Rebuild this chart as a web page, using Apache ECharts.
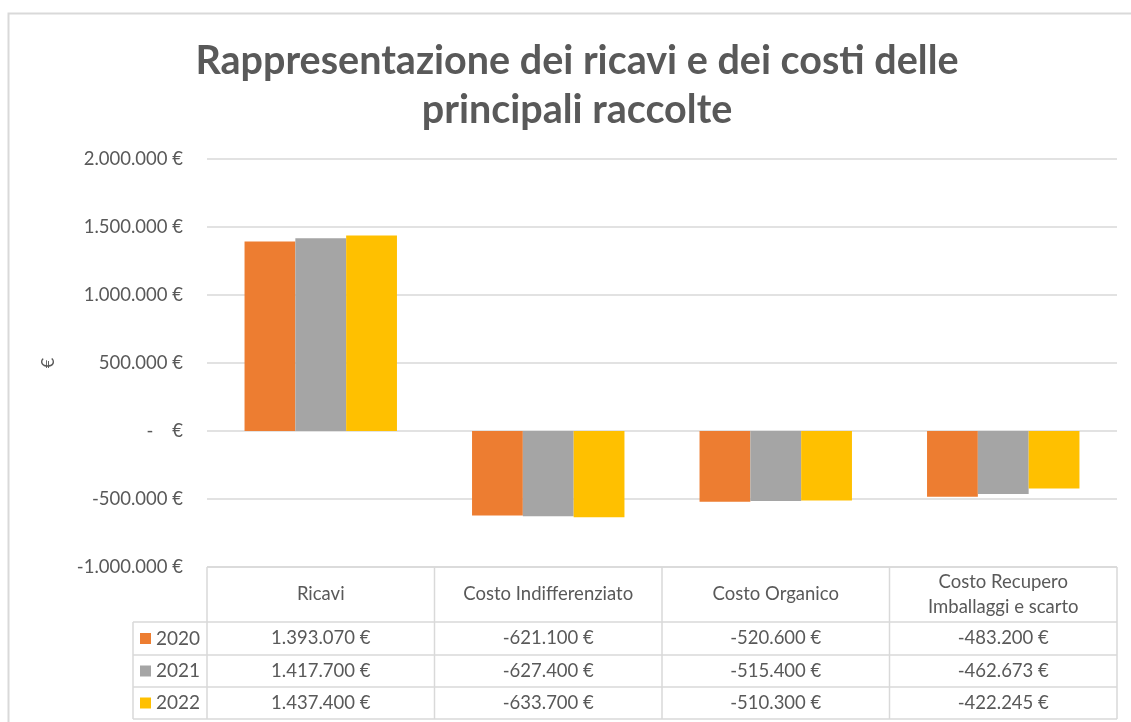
<!DOCTYPE html>
<html>
<head>
<meta charset="utf-8">
<script src="https://cdn.jsdelivr.net/npm/echarts@6/dist/echarts.min.js"></script>
<style>
  html, body { margin: 0; padding: 0; background: #fff; }
  #chart { width: 1131px; height: 722px; }
</style>
</head>
<body>
<div id="chart"></div>
<script>
// dati
var categorie = ['Ricavi', 'Costo Indifferenziato', 'Costo Organico', 'Costo Recupero\nImballaggi e scarto'];
var anni = ['2020', '2021', '2022'];
var valori2020 = [1393070, -621100, -520600, -483200];
var valori2021 = [1417700, -627400, -515400, -462673];
var valori2022 = [1437400, -633700, -510300, -422245];
var colori = ['#ED7D31', '#A5A5A5', '#FFC000'];
var titolo = 'Rappresentazione dei ricavi e dei costi delle\nprincipali raccolte';

var serie = [valori2020, valori2021, valori2022];
var FONT = 'Lato, "Open Sans", sans-serif';
var TESTO = '#595959';
var LINEA = '#D9D9D9';

// posizione area grafico
var gLeft = 207, gRight = 1117, gTop = 159, gBottom = 567;
var righe = [622, 655, 687, 719];
var legLeft = 133;

function euro(v) {
  if (v === 0) return '-    €';
  var s = Math.abs(v).toString().replace(/\B(?=(\d{3})+(?!\d))/g, '.');
  return (v < 0 ? '-' : '') + s + ' €';
}

var myChart = echarts.init(document.getElementById('chart'));

// tabella dati sotto il grafico
var colW = (gRight - gLeft) / categorie.length;
var g = [];
function linea(x1, y1, x2, y2) {
  g.push({ type: 'line', silent: true, shape: { x1: x1, y1: y1, x2: x2, y2: y2 },
    style: { stroke: LINEA, lineWidth: 1.5 } });
}
function testo(t, x, y, size, align) {
  g.push({ type: 'text', silent: true, style: { text: t, x: x, y: y,
    font: size + 'px ' + FONT, fill: TESTO, lineHeight: 25,
    textAlign: align || 'center', textVerticalAlign: 'middle',
    align: align || 'center', verticalAlign: 'middle' } });
}

// bordo esterno
g.push({ type: 'rect', silent: true, shape: { x: 8.5, y: 13.5, width: 1140, height: 740 },
  style: { fill: 'none', stroke: LINEA, lineWidth: 2 } });

// titolo
g.push({ type: 'text', silent: true, style: { text: titolo, x: 577, y: 86,
  font: 'bold 39.5px ' + FONT, fill: TESTO, lineHeight: 49,
  textAlign: 'center', textVerticalAlign: 'middle', align: 'center', verticalAlign: 'middle' } });

linea(gLeft, gBottom, gRight, gBottom);
for (var i = 0; i <= categorie.length; i++) {
  var x = gLeft + i * colW;
  linea(x, gBottom, x, righe[3]);
}
linea(legLeft, righe[0], legLeft, righe[3]);
for (var r = 0; r < righe.length; r++) {
  linea(legLeft, righe[r], gRight, righe[r]);
}
for (var c = 0; c < categorie.length; c++) {
  var cx = gLeft + (c + 0.5) * colW;
  testo(categorie[c], cx, (gBottom + righe[0]) / 2, 18.5);
  for (var s = 0; s < serie.length; s++) {
    testo(euro(serie[s][c]), cx, (righe[s] + righe[s + 1]) / 2, 18.5);
  }
}
for (var s2 = 0; s2 < anni.length; s2++) {
  var cy = (righe[s2] + righe[s2 + 1]) / 2;
  g.push({ type: 'rect', silent: true, shape: { x: 140, y: cy - 5.5, width: 11, height: 11 },
    style: { fill: colori[s2] } });
  testo(anni[s2], 156, cy, 19, 'left');
}

var option = {
  animation: false,
  backgroundColor: '#fff',
  color: colori,
  grid: { left: gLeft, right: 1131 - gRight, top: gTop, bottom: 722 - gBottom },
  xAxis: {
    type: 'category',
    data: categorie,
    axisLine: { show: false },
    axisTick: { show: false },
    axisLabel: { show: false }
  },
  yAxis: {
    type: 'value',
    min: -1000000,
    max: 2000000,
    interval: 500000,
    name: '€',
    nameLocation: 'middle',
    nameRotate: 90,
    nameGap: 150,
    nameTextStyle: { color: TESTO, fontSize: 18, fontFamily: FONT },
    axisLine: { show: false },
    axisTick: { show: false },
    axisLabel: { color: TESTO, fontSize: 18.5, fontFamily: FONT, margin: 24, formatter: euro },
    splitLine: { lineStyle: { color: LINEA, width: 1.5 } }
  },
  series: anni.map(function(a, k) {
    return { name: a, type: 'bar', data: serie[k], barGap: '0%', barCategoryGap: '33%' };
  }),
  graphic: g
};
myChart.setOption(option);
</script>
</body>
</html>
